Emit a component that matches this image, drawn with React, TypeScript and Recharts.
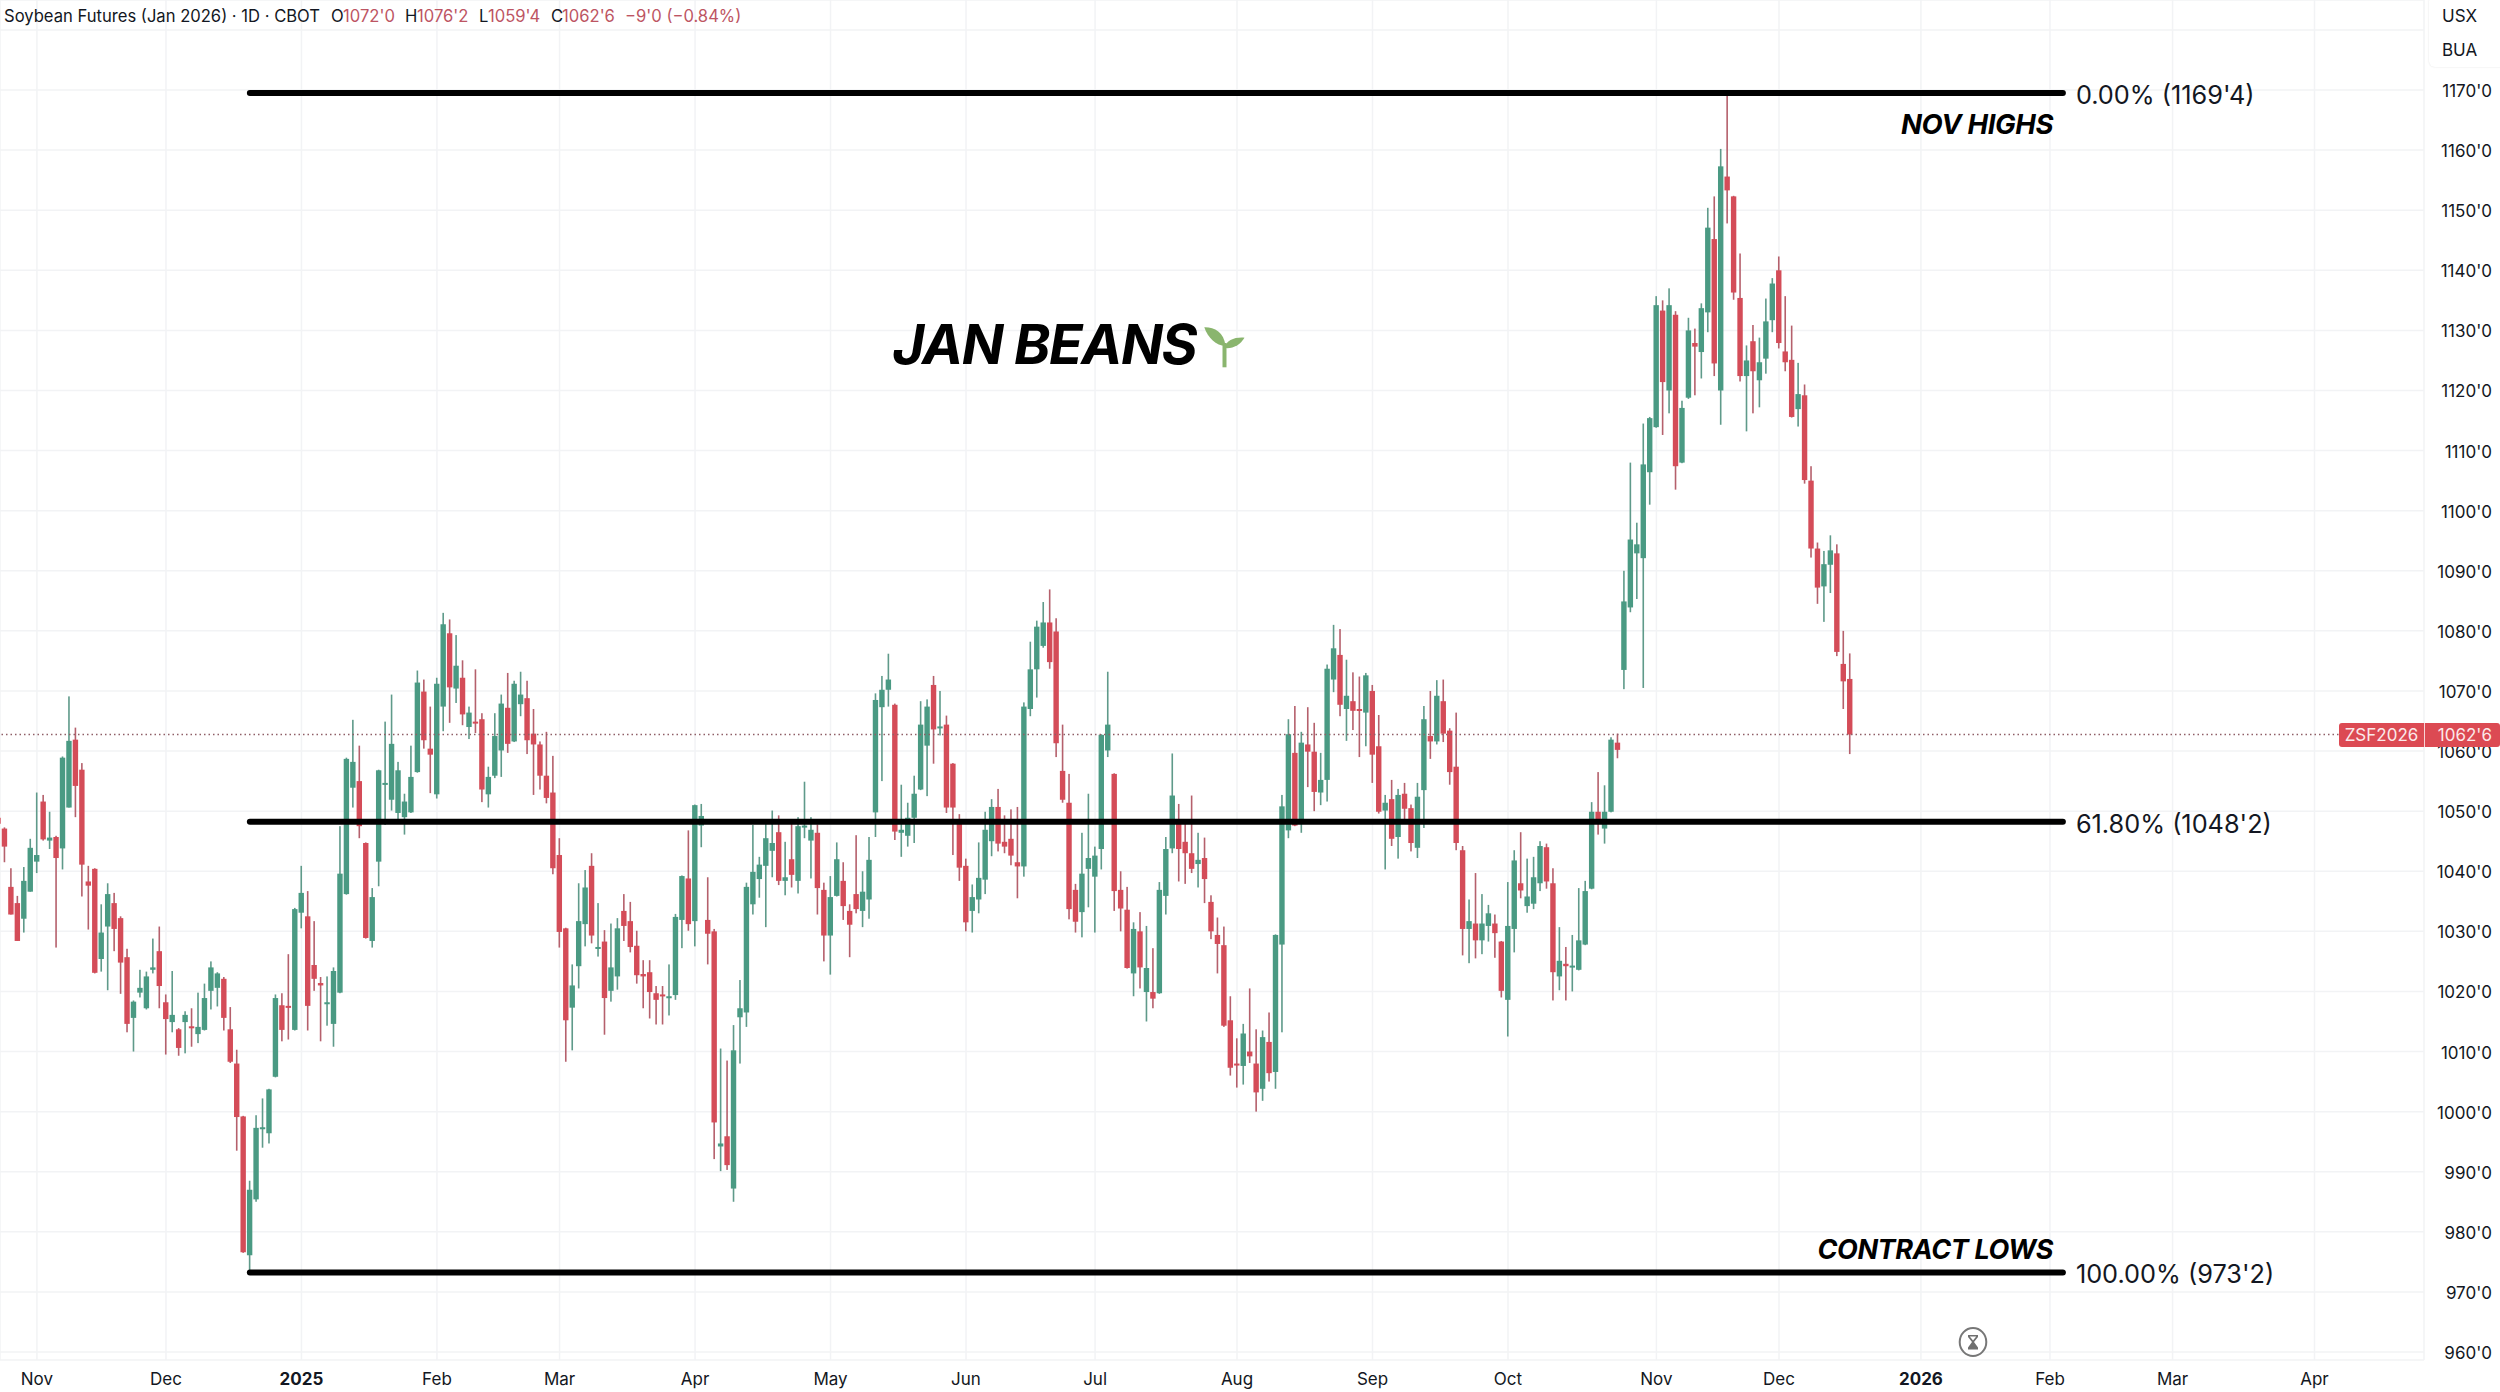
import { Bar, CartesianGrid, ComposedChart, ReferenceLine, XAxis, YAxis } from "recharts";

const opens = [
  1048.9, 1047.1, 1037.4, 1034.7, 1032.1, 1036.6, 1041.6, 1051.6, 1045.1, 1045.7, 1043.8, 1050.6, 1061.9, 1056.9, 1038.3, 1040.4,
  1025.4, 1030.8, 1034.7, 1032.2, 1025.7, 1015.6, 1019.8, 1017.2, 1023.6, 1026.7, 1018.2, 1014.9, 1013.7, 1014.9, 1014.2, 1012.9,
  1013.6, 1020.1, 1020.6, 1022.1, 1013.7, 1008, 999.2, 976.1, 985.4, 997.1, 996.4, 1005.8, 1017.7, 1017.6, 1013.6, 1033.1,
  1032.5, 1024.4, 1021.4, 1017.9, 1014.6, 1019.8, 1036.2, 1053.9, 1055, 1044.7, 1028.4, 1041.6, 1054.5, 1051.9, 1049.7, 1049,
  1049.8, 1056.5, 1069.9, 1060.4, 1052.8, 1067.4, 1079.6, 1070.4, 1072.2, 1064, 1064.9, 1065.3, 1052.8, 1055.9, 1060.1, 1067.2,
  1061.6, 1067.8, 1068.8, 1062.9, 1061.1, 1055.9, 1053.1, 1042.7, 1030.5, 1017.3, 1024.2, 1031.2, 1040.9, 1027.2, 1028.3, 1020.1,
  1022.5, 1033.4, 1031.7, 1027.6, 1022.9, 1023.2, 1019.7, 1019.5, 1019, 1019.4, 1031.9, 1038.8, 1031.7, 1047.6, 1031.9, 1030,
  994.2, 995.9, 987.2, 1015.7, 1016.5, 1034.5, 1038.7, 1040.9, 1043.4, 1046.5, 1038.4, 1042, 1038.4, 1047.4, 1045.1, 1046.4,
  1036.9, 1029.3, 1035.9, 1038.4, 1033.4, 1036.2, 1033.4, 1035.3, 1049.8, 1067.3, 1070.2, 1067.7, 1046.4, 1045.9, 1048.9, 1053.6,
  1060.9, 1071, 1063.9, 1064.4, 1057.9, 1048.6, 1040.9, 1033.4, 1035.3, 1038.6, 1045, 1050.7, 1044.9, 1045.4, 1041.5, 1040.8,
  1067, 1073.6, 1077.5, 1081.4, 1079.9, 1056.7, 1051.4, 1036.9, 1033.2, 1040.4, 1039.1, 1043.7, 1060.1, 1056.2, 1036.9, 1033.6,
  1023, 1030, 1019.9, 1019.9, 1019.7, 1035.9, 1043.8, 1048.4, 1044.9, 1043, 1041.2, 1042.2, 1034.9, 1029.4, 1027.7, 1015.2,
  1008, 1007.6, 1010, 1008, 1003.8, 1011.6, 1006.6, 1027.8, 1046.8, 1059.7, 1048.4, 1061.1, 1059.9, 1053.1, 1055.2, 1071.9,
  1076, 1067, 1068.3, 1067, 1066.4, 1070, 1060.8, 1050.1, 1052, 1045.7, 1052.9, 1050.5, 1043.9, 1053.5, 1062.5, 1061.6,
  1068.3, 1063.4, 1057.4, 1043.5, 1030.4, 1031.3, 1028.5, 1030.9, 1031.3, 1028.3, 1018.6, 1030.4, 1038, 1034.2, 1034.6, 1038,
  1044, 1038, 1022.5, 1024.6, 1024.2, 1023.6, 1027.8, 1037.1, 1049.9, 1047.1, 1049.9, 1061.4, 1073.5, 1083.9, 1092.9, 1092.1,
  1106.4, 1113.9, 1133.3, 1120, 1132.6, 1108, 1118.8, 1127.9, 1126.4, 1133, 1145.2, 1120, 1155.6, 1152.3, 1135.4, 1122.4,
  1128.2, 1121.7, 1125.3, 1131.7, 1140, 1126.5, 1125.1, 1116.9, 1119.2, 1105, 1093.7, 1087.4, 1091, 1092.9, 1074.5, 1072,
];

const highs = [
  1049.5, 1047.3, 1040.5, 1035.9, 1040.7, 1045.4, 1053.1, 1052.7, 1049.9, 1045.9, 1059.1, 1069.1, 1063.9, 1058, 1040.9, 1040.5,
  1034.5, 1038, 1036.4, 1032.5, 1027.1, 1018.5, 1023.6, 1023.3, 1028.8, 1030.8, 1019.5, 1023.4, 1013.9, 1016.7, 1017.2, 1019.8,
  1021.3, 1025, 1023.2, 1022.4, 1017.4, 1010.3, 999.3, 988.5, 999.4, 1002.2, 1003.8, 1019.5, 1019.7, 1026.2, 1033.9, 1040.9,
  1036.7, 1031.7, 1022.4, 1022.5, 1024, 1047.5, 1058.9, 1065.2, 1060.9, 1044.8, 1037.2, 1056.9, 1064.9, 1069.4, 1058.2, 1052.9,
  1060.9, 1073.4, 1071.9, 1067.4, 1072.2, 1083, 1081.9, 1079.3, 1075.1, 1067.4, 1073.6, 1066.3, 1057.4, 1066.3, 1069.4, 1073,
  1071.7, 1073.2, 1071.7, 1067, 1061.6, 1063.2, 1059.2, 1045.5, 1030.6, 1024.5, 1038, 1040.2, 1043, 1034.7, 1030.2, 1031.3,
  1032.2, 1036.2, 1034.9, 1030.1, 1025.2, 1025.2, 1020.9, 1020.9, 1024.5, 1032.9, 1039.3, 1046.8, 1051.1, 1051.2, 1039, 1030.4,
  1010.5, 1008.5, 1014.4, 1021.9, 1038.1, 1047.7, 1042.4, 1048.6, 1050.1, 1049.3, 1044.9, 1048.4, 1049, 1054.9, 1049, 1047.8,
  1038.1, 1039.2, 1044.8, 1041.5, 1034.5, 1046, 1040, 1045.7, 1069.6, 1072.5, 1076.2, 1067.9, 1054.4, 1051.4, 1055.9, 1068.3,
  1068.6, 1072.5, 1070, 1065.9, 1058, 1049.5, 1042.1, 1037.8, 1044.8, 1049.9, 1052, 1053.7, 1049.3, 1050.3, 1050.7, 1068.1,
  1078.2, 1081.7, 1084.8, 1086.9, 1082.1, 1064.4, 1056.2, 1037.9, 1046.4, 1052.9, 1044.1, 1062.8, 1073.2, 1056.3, 1040, 1037.4,
  1031.5, 1033.2, 1030.9, 1027.2, 1038.2, 1045.7, 1059.6, 1051.2, 1047.9, 1052.6, 1046.4, 1045.6, 1036, 1032.3, 1030.8, 1019.2,
  1012.2, 1014.6, 1020.5, 1013.7, 1013.5, 1016.5, 1029.5, 1052.7, 1065.3, 1067.5, 1063.2, 1067.3, 1064.7, 1059.7, 1074.4, 1081,
  1080.3, 1075.2, 1073.1, 1072.4, 1073, 1071, 1066, 1052.7, 1055.2, 1053.7, 1054.7, 1051.1, 1054.7, 1067.5, 1070, 1071.8,
  1071.9, 1063.8, 1066.4, 1044.2, 1035.3, 1039.7, 1036.2, 1034.4, 1032.8, 1028.4, 1038.2, 1043.5, 1046.5, 1042.1, 1042.4, 1045,
  1044.6, 1040.5, 1030.7, 1027.4, 1029.4, 1037.2, 1038.4, 1051.5, 1056.5, 1054.3, 1062.3, 1062.9, 1090, 1108, 1098, 1114.5,
  1115.6, 1135.7, 1135, 1137, 1133.2, 1118.3, 1132.1, 1130.3, 1134.5, 1150.4, 1152.3, 1160.2, 1169.5, 1152.4, 1142.8, 1127.5,
  1130.9, 1128.8, 1135.3, 1138.7, 1142.3, 1135.7, 1130.8, 1124.6, 1121, 1107.4, 1094.7, 1093.3, 1095.9, 1094.4, 1080, 1076.25,
];

const lows = [
  1047, 1041.5, 1032.8, 1028.4, 1029.8, 1036.6, 1039.7, 1045.1, 1043.7, 1027.3, 1040.3, 1050.6, 1049, 1035.8, 1030.3, 1023,
  1023.3, 1020.2, 1026.7, 1019.6, 1013.2, 1010, 1019, 1017, 1023, 1017.2, 1009.5, 1013.2, 1009.3, 1009.7, 1010.8, 1011.4,
  1013.5, 1017, 1017.5, 1013.5, 1008.1, 993.5, 976.5, 973.4, 985, 994, 994.7, 1005.7, 1011.7, 1012, 1013.5, 1030.5,
  1013.5, 1020.1, 1011.7, 1014.3, 1010.8, 1019.7, 1036.1, 1050.6, 1045.5, 1028.8, 1027.3, 1037.5, 1047.7, 1050.1, 1048.5, 1046.1,
  1049.7, 1056.4, 1060.4, 1053, 1052.1, 1063.3, 1064.7, 1068, 1064.3, 1062, 1063, 1051.5, 1050.6, 1055.5, 1055.7, 1059.7,
  1061.5, 1065.8, 1059.5, 1052.7, 1053.6, 1051.3, 1039.5, 1027.3, 1008.3, 1010.2, 1020.5, 1027.5, 1028, 1025.8, 1012.8, 1018.3,
  1020.3, 1028.4, 1026.5, 1021.3, 1017.2, 1015.5, 1014.5, 1014.5, 1016, 1018.6, 1027.2, 1030.1, 1027.5, 1044, 1024.5, 992.1,
  990.1, 990.3, 985, 1008, 1014.1, 1032.8, 1035.6, 1030.7, 1039, 1037.7, 1036, 1037.3, 1036.3, 1045.5, 1038.8, 1032.8,
  1025, 1022.8, 1035.8, 1031.9, 1025.7, 1033, 1030.7, 1032.1, 1045.7, 1055, 1067.4, 1045.2, 1042.4, 1044.1, 1044.7, 1053.5,
  1052.5, 1057.9, 1062.6, 1049.7, 1042.7, 1038.4, 1030, 1029.8, 1033, 1036.2, 1042.5, 1043.3, 1043, 1041, 1035.5, 1039.1,
  1065.8, 1068.9, 1077.2, 1073.7, 1059, 1051.4, 1032, 1029.8, 1029, 1034, 1029.8, 1040.3, 1059, 1033.4, 1030, 1023.8,
  1019.2, 1020.5, 1015, 1017.2, 1019.6, 1032.8, 1043, 1038.3, 1037.9, 1039.7, 1037.3, 1034.7, 1028.7, 1023, 1014.1, 1006,
  1004, 1004.5, 1008.1, 1000, 1001.8, 1005, 1003.8, 1013.2, 1045.5, 1047.5, 1046.4, 1054, 1050, 1051, 1051.6, 1069.8,
  1065.8, 1061.7, 1063.5, 1059, 1060.8, 1054.7, 1049.6, 1040.3, 1044.2, 1042.1, 1048.3, 1043.3, 1042.2, 1047.2, 1058.7, 1061.1,
  1061.5, 1054.4, 1043.5, 1026, 1024.7, 1025.5, 1026.2, 1028.3, 1025.6, 1019, 1012.5, 1026.5, 1035.5, 1033.1, 1033.7, 1036.7,
  1037.1, 1018.5, 1020.2, 1018.5, 1020, 1023.5, 1027.7, 1037, 1046.1, 1044.6, 1049.8, 1058.8, 1070.3, 1083.1, 1085.3, 1070.5,
  1101, 1113.8, 1112.6, 1116.2, 1103.5, 1107.9, 1118.6, 1119.2, 1122, 1129.7, 1122.4, 1114.3, 1147.8, 1135.1, 1121.5, 1113.2,
  1116.2, 1117.2, 1122.8, 1129.7, 1127, 1123.2, 1115.5, 1114, 1104.5, 1092.2, 1084.5, 1081.5, 1086.3, 1075.8, 1067, 1059.5,
];

const closes = [
  1047.9, 1044.1, 1032.8, 1028.4, 1038.4, 1043.9, 1042.7, 1045.3, 1045.6, 1042.2, 1058.9, 1061.7, 1054.2, 1041.1, 1037.6, 1023.1,
  1029.8, 1036.2, 1030.4, 1024.8, 1014.6, 1018.3, 1020.6, 1022.5, 1024, 1020.9, 1015.4, 1016.1, 1010.6, 1016.1, 1013.9, 1014.1,
  1018.9, 1024, 1023, 1015.6, 1008.3, 999.1, 976.6, 987, 997.3, 997.4, 1003.7, 1018.9, 1013.6, 1017.3, 1033.7, 1036.4,
  1017.6, 1022.1, 1021, 1018.2, 1023.4, 1039.6, 1058.7, 1058.2, 1047.5, 1028.9, 1035.7, 1056.8, 1054.7, 1061.2, 1056.8, 1051.6,
  1055.7, 1071.4, 1061.8, 1059.4, 1071.2, 1081.1, 1070.6, 1074.2, 1066.1, 1066.4, 1064.6, 1053.6, 1055.7, 1062.5, 1067.9, 1061.2,
  1071.2, 1069.4, 1061.8, 1061.1, 1055.9, 1052.2, 1040.5, 1029.9, 1015.2, 1021, 1031.7, 1037.3, 1029.3, 1027.4, 1018.9, 1024,
  1030.5, 1030.9, 1027.4, 1022.7, 1022.5, 1019.9, 1018.6, 1019.2, 1019.2, 1032.4, 1039.2, 1031.2, 1051, 1049.2, 1029.6, 998.2,
  994.7, 991.1, 1010.2, 1017.2, 1037.4, 1039.9, 1041.1, 1045.5, 1044.7, 1038.4, 1039, 1039.4, 1047.5, 1047.6, 1046.9, 1037.2,
  1029.3, 1035.7, 1042, 1034.2, 1031.1, 1033.7, 1036.6, 1041.9, 1068.5, 1070.2, 1071.9, 1046.6, 1046.9, 1048.9, 1052.9, 1064.4,
  1067.4, 1063.6, 1064.1, 1050.6, 1050.6, 1040.6, 1031.5, 1035.7, 1038.9, 1046.9, 1050.7, 1044.6, 1044.1, 1042.6, 1040.8, 1067.4,
  1073.6, 1080.7, 1081.4, 1074.8, 1061.3, 1051.9, 1033.7, 1031.6, 1039.6, 1042.2, 1042.6, 1062.7, 1064.4, 1036.7, 1033.8, 1023.9,
  1030.4, 1024, 1023.9, 1018.8, 1036.9, 1043.7, 1052.6, 1043.7, 1043, 1040.4, 1041.9, 1038.7, 1030, 1027.9, 1014.3, 1007.3,
  1007.7, 1013, 1009.2, 1003.2, 1012.4, 1006.4, 1029.4, 1050.8, 1062.8, 1047.6, 1061.4, 1059.9, 1053.2, 1055.2, 1073.7, 1077.1,
  1067.7, 1069.2, 1066.7, 1066.8, 1072.6, 1059.4, 1049.9, 1051.4, 1045.4, 1052.7, 1050.4, 1044.7, 1052.4, 1065.3, 1061.6, 1069.2,
  1062.9, 1056.5, 1044.7, 1030.4, 1031.7, 1028.5, 1031.3, 1033, 1029.7, 1020.1, 1030.9, 1041.8, 1036.8, 1035.8, 1039, 1044.2,
  1038.3, 1023.2, 1025.1, 1024.2, 1024.3, 1028.5, 1036.7, 1049.9, 1048.3, 1049.9, 1061.9, 1060.2, 1084.9, 1095.2, 1094.4, 1107.7,
  1115.4, 1134.2, 1121.4, 1134.2, 1107.4, 1117.1, 1130, 1127.3, 1133.7, 1147.1, 1124.5, 1157.3, 1153.3, 1136.3, 1122.4, 1125,
  1123.2, 1124.7, 1131.5, 1137.8, 1127.9, 1124.7, 1115.6, 1119.4, 1105.1, 1093.7, 1087.2, 1091.1, 1093.4, 1076.5, 1071.6, 1062.75,
];

const monthTicks = [6, 26, 47, 68, 87, 108, 129, 150, 170, 192, 213, 234, 257, 276, 298, 318, 337, 359];
const monthLabels = ["Nov", "Dec", "2025", "Feb", "Mar", "Apr", "May", "Jun", "Jul", "Aug", "Sep", "Oct", "Nov", "Dec", "2026", "Feb", "Mar", "Apr"];
const priceTicks = [960, 970, 980, 990, 1000, 1010, 1020, 1030, 1040, 1050, 1060, 1070, 1080, 1090, 1100, 1110, 1120, 1130, 1140, 1150, 1160, 1170, 1180];
const fibLevels = [
  { price: 1169.5, label: "0.00% (1169'4)" },
  { price: 1048.25, label: "61.80% (1048'2)" },
  { price: 973.25, label: "100.00% (973'2)" },
];
const lastPrice = 1062.75;

const rows = opens.map((open, i) => ({
  i,
  open,
  high: highs[i],
  low: lows[i],
  close: closes[i],
  range: [lows[i], highs[i]],
}));

const UP = "#4a9a83";
const DOWN = "#d44c58";
const UP_WICK = "#5f9a8a";
const DOWN_WICK = "#b5606c";
const INK = "#131722";
const VALUE_RED = "#bd5563";
const FONT = "Inter, 'Noto Sans', sans-serif";

const Candle = (props: any) => {
  const { x, y, width, height, payload } = props;
  const { open, high, low, close } = payload;
  const perUnit = height / (high - low);
  const top = y + (high - Math.max(open, close)) * perUnit;
  const bodyHeight = Math.max(Math.abs(open - close) * perUnit, 2);
  const cx = x + width / 2;
  const up = close >= open;
  return (
    <g>
      <rect x={cx - 0.8} y={y} width={1.6} height={height} fill={up ? UP_WICK : DOWN_WICK} />
      <rect x={cx - 2.7} y={top} width={5.4} height={bodyHeight} fill={up ? UP : DOWN} />
    </g>
  );
};

const TimeTick = (props: any) => {
  const { x, y, index } = props;
  const label = monthLabels[index];
  const bold = label === "2025" || label === "2026";
  return (
    <text x={x} y={y + 17} textAnchor="middle" fontSize={17} fontWeight={bold ? 700 : 400} fill={INK} fontFamily={FONT}>
      {label}
    </text>
  );
};

const PriceTick = (props: any) => {
  const { y, payload } = props;
  if (payload.value === 1180) return null;
  return (
    <text x={2492} y={y + 7} textAnchor="end" fontSize={17} fill={INK} fontFamily={FONT}>
      {`${payload.value}'0`}
    </text>
  );
};

const abs = (left: number, top: number): React.CSSProperties => ({
  position: "absolute",
  left,
  top,
  lineHeight: 1,
  whiteSpace: "nowrap",
});

const Note = ({ right, top, size, spacing, children }: any) => (
  <div
    style={{
      position: "absolute",
      right: 2500 - right,
      top,
      lineHeight: 1,
      whiteSpace: "nowrap",
      fontSize: size,
      fontWeight: 700,
      fontStyle: "italic",
      letterSpacing: spacing,
      color: "#000",
    }}
  >
    {children}
  </div>
);

export default function App() {
  return (
    <div style={{ position: "absolute", left: 0, top: 0, width: 2500, height: 1392, background: "#fff", fontFamily: FONT, overflow: "hidden" }}>
      <ComposedChart width={2500} height={1392} data={rows} margin={{ top: 0, right: 0, bottom: 0, left: 0 }}>
        <CartesianGrid stroke="#f2f3f5" strokeWidth={1.5} />
        <XAxis
          dataKey="i"
          type="number"
          domain={[0.276, 375.97]}
          allowDataOverflow
          ticks={monthTicks}
          interval={0}
          axisLine={false}
          tickLine={false}
          tick={<TimeTick />}
          height={32}
        />
        <YAxis
          orientation="right"
          type="number"
          domain={[958.67, 1184.98]}
          allowDataOverflow
          ticks={priceTicks}
          interval={0}
          axisLine={false}
          tickLine={false}
          tick={<PriceTick />}
          width={76}
        />
        <ReferenceLine y={lastPrice} stroke="#8f5f67" strokeWidth={1.4} strokeDasharray="1.5 3" />
        {fibLevels.map((level) => (
          <ReferenceLine
            key={level.price}
            segment={[
              { x: 39, y: level.price },
              { x: 320, y: level.price },
            ]}
            stroke="#000"
            strokeWidth={6}
            strokeLinecap="round"
            label={{ value: level.label, position: "right", offset: 13, fontSize: 25.3, fill: "#131722", dy: 2 }}
          />
        ))}
        <Bar dataKey="range" barSize={6} shape={<Candle />} isAnimationActive={false} />
      </ComposedChart>

      <div style={{ ...abs(4, 8), fontSize: 16.6, color: INK }}>Soybean Futures (Jan 2026) · 1D · CBOT</div>
      <div style={{ ...abs(331, 8), fontSize: 16.6, color: INK }}>O</div>
      <div style={{ ...abs(343, 8), fontSize: 16.6, color: VALUE_RED }}>1072'0</div>
      <div style={{ ...abs(405, 8), fontSize: 16.6, color: INK }}>H</div>
      <div style={{ ...abs(417, 8), fontSize: 16.6, color: VALUE_RED }}>1076'2</div>
      <div style={{ ...abs(479, 8), fontSize: 16.6, color: INK }}>L</div>
      <div style={{ ...abs(488, 8), fontSize: 16.6, color: VALUE_RED }}>1059'4</div>
      <div style={{ ...abs(551, 8), fontSize: 16.6, color: INK }}>C</div>
      <div style={{ ...abs(562, 8), fontSize: 16.6, color: VALUE_RED }}>1062'6</div>
      <div style={{ ...abs(625, 8), fontSize: 16.6, color: VALUE_RED }}>−9'0 (−0.84%)</div>

      <div style={{ position: "absolute", left: 2429, top: -4, width: 80, height: 71, borderRadius: 6, background: "#fff", boxShadow: "0 0 2px rgba(0,0,0,0.12)" }} />
      <div style={{ ...abs(2442, 8), fontSize: 17, color: INK }}>USX</div>
      <div style={{ ...abs(2442, 42), fontSize: 17, color: INK }}>BUA</div>

      <div style={{ position: "absolute", left: 2339, top: 723, width: 161, height: 24, borderRadius: 3, background: "#dc4a53", display: "flex", color: "#fbe9ea", fontSize: 17, alignItems: "center" }}>
        <div style={{ width: 85, textAlign: "center", borderRight: "1px solid #f7d5d7", height: 24, lineHeight: "24px" }}>ZSF2026</div>
        <div style={{ width: 75, textAlign: "right", height: 24, lineHeight: "24px", paddingRight: 8, boxSizing: "border-box" }}>1062'6</div>
      </div>

      <Note right={2053} top={111} size={27.5} spacing={-0.4}>NOV HIGHS</Note>
      <Note right={2053} top={1236} size={27} spacing={-0.4}>CONTRACT LOWS</Note>
      <Note right={1196} top={317} size={55} spacing={-1.4}>JAN BEANS</Note>

      <svg style={{ position: "absolute", left: 1200, top: 322, width: 50, height: 50 }} viewBox="1200 322 50 50">
        <path d="M1204.3 327.3 C1214 327 1224 332 1225.5 346 C1216 346 1208 338 1204.3 327.3 Z" fill="#8ab56e" />
        <path d="M1244.5 337.7 C1235 337 1226 340 1224.5 348 C1233 349 1240 345 1244.5 337.7 Z" fill="#8ab56e" />
        <path d="M1222.5 343 L1226.5 343 L1226.5 367.3 L1222.5 367.3 Z" fill="#8ab56e" />
      </svg>

      <svg style={{ position: "absolute", left: 1957, top: 1326, width: 32, height: 32 }} viewBox="0 0 32 32">
        <ellipse cx="16" cy="16" rx="13.3" ry="14" fill="#fff" stroke="#777" strokeWidth="2" />
        <path d="M11 9 H21 V11 L17 16 L21 21.5 V23.5 H11 V21.5 L15 16 L11 11 Z" fill="#6f6f6f" />
        <path d="M12.8 10.6 H19.2 L16 14.5 Z" fill="#fff" />
      </svg>
    </div>
  );
}
